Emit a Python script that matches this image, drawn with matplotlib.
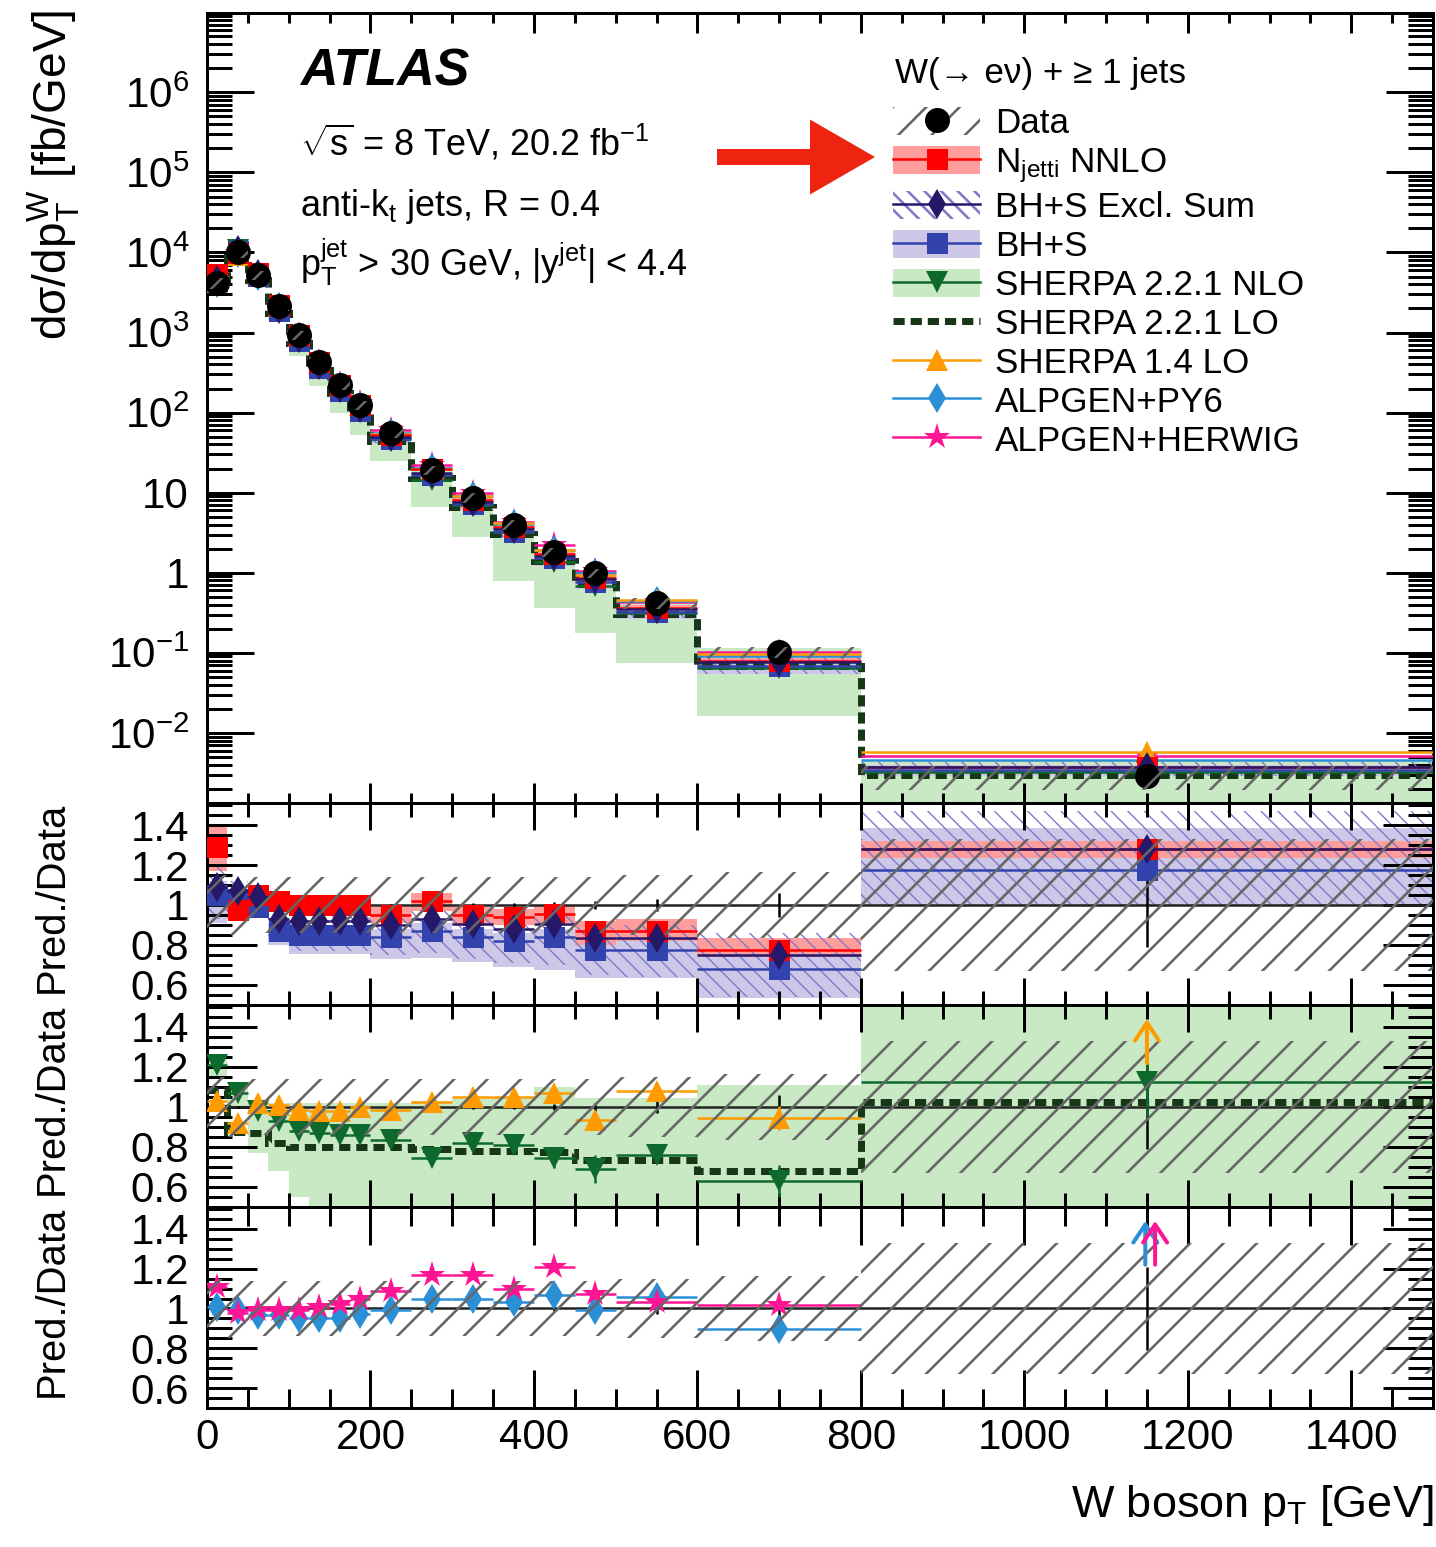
import numpy as np
import matplotlib
matplotlib.use("Agg")
import matplotlib.pyplot as plt
from matplotlib.lines import Line2D
from matplotlib.patches import Patch, FancyArrow
from matplotlib.ticker import MultipleLocator, LogLocator, FixedLocator, FuncFormatter, NullFormatter

# === Data ===
edges = [0, 25, 50, 75, 100, 125, 150, 175, 200, 250, 300, 350, 400, 450, 500, 600, 800, 1500]

data_xs = [4140, 10090, 5210, 2137, 929, 428, 221, 124, 55.5, 19.1, 8.57, 3.94, 1.81, 0.99, 0.419, 0.102, 0.0029]
data_syst = [0.15, 0.15, 0.14, 0.14, 0.14, 0.14, 0.14, 0.14, 0.14, 0.14, 0.14, 0.14, 0.14, 0.14, 0.15, 0.165, 0.33]
data_stat = [0.004, 0.004, 0.004, 0.004, 0.004, 0.005, 0.005, 0.005, 0.006, 0.008, 0.01, 0.012, 0.015, 0.02, 0.03, 0.06, 0.21]

# predictions / data
njetti = [1.29, 0.975, 1.05, 1.02, 1.0, 1.0, 1.0, 1.0, 0.95, 1.02, 0.95, 0.94, 0.955, 0.87, 0.87, 0.775, 1.28]
njetti_lo = [1.17, 0.93, 1.0, 0.98, 0.96, 0.96, 0.96, 0.96, 0.91, 0.97, 0.9, 0.9, 0.91, 0.8, 0.82, 0.74, 1.235]
njetti_hi = [1.40, 1.02, 1.09, 1.06, 1.04, 1.04, 1.04, 1.04, 0.99, 1.06, 0.99, 0.98, 1.0, 0.92, 0.93, 0.835, 1.32]

bhs_excl = [1.09, 1.07, 1.04, 0.93, 0.92, 0.92, 0.92, 0.92, 0.90, 0.93, 0.905, 0.88, 0.905, 0.835, 0.835, 0.75, 1.28]
bhs_excl_lo = [0.93, 0.96, 0.95, 0.82, 0.77, 0.77, 0.77, 0.77, 0.75, 0.76, 0.73, 0.71, 0.70, 0.65, 0.64, 0.54, 1.0]
bhs_excl_hi = [1.2, 1.12, 1.08, 0.97, 0.96, 0.96, 0.96, 0.96, 0.94, 0.97, 0.95, 0.93, 0.95, 0.89, 0.9, 0.86, 1.47]

bhs = [1.05, 1.03, 0.99, 0.87, 0.85, 0.85, 0.85, 0.85, 0.84, 0.87, 0.84, 0.82, 0.84, 0.775, 0.775, 0.68, 1.175]
bhs_lo = [0.91, 0.95, 0.94, 0.80, 0.755, 0.755, 0.755, 0.755, 0.73, 0.735, 0.715, 0.69, 0.675, 0.635, 0.635, 0.535, 1.0]
bhs_hi = [1.12, 1.08, 1.03, 0.91, 0.89, 0.89, 0.89, 0.89, 0.88, 0.91, 0.88, 0.86, 0.88, 0.82, 0.82, 0.8, 1.385]

sherpa_nlo = [1.21, 1.07, 0.98, 0.93, 0.88, 0.87, 0.86, 0.86, 0.835, 0.745, 0.82, 0.81, 0.745, 0.69, 0.76, 0.63, 1.125]
sherpa_nlo_stat = [0.01, 0.01, 0.01, 0.01, 0.01, 0.01, 0.01, 0.01, 0.02, 0.03, 0.02, 0.03, 0.05, 0.07, 0.04, 0.08, 0.17]
sherpa_nlo_lo = [1.15, 1.0, 0.77, 0.68, 0.55, 0.5, 0.45, 0.42, 0.45, 0.35, 0.33, 0.2, 0.2, 0.18, 0.18, 0.16, 0.1]
sherpa_nlo_hi = [1.26, 1.1, 1.02, 1.02, 1.02, 1.02, 1.02, 1.02, 1.02, 1.03, 1.04, 1.045, 1.1, 1.045, 1.045, 1.11, 1.6]

sherpa_lo = [1.085, 0.875, 0.87, 0.82, 0.80, 0.80, 0.80, 0.80, 0.80, 0.79, 0.78, 0.78, 0.775, 0.733, 0.735, 0.68, 1.025]

sherpa14 = [1.03, 0.92, 1.02, 1.01, 0.985, 0.98, 0.98, 1.0, 0.985, 1.027, 1.05, 1.05, 1.07, 0.933, 1.078, 0.945, 2.0]
sherpa14_stat = [0.005, 0.005, 0.005, 0.005, 0.005, 0.005, 0.005, 0.005, 0.01, 0.01, 0.01, 0.015, 0.02, 0.04, 0.03, 0.06, 0.2]

alpgen_py6 = [1.01, 0.99, 0.967, 0.967, 0.95, 0.95, 0.95, 0.97, 0.99, 1.05, 1.05, 1.033, 1.067, 0.99, 1.058, 0.895, 1.6]
alpgen_herwig = [1.11, 0.975, 0.99, 0.99, 0.99, 1.01, 1.025, 1.05, 1.09, 1.167, 1.167, 1.1, 1.21, 1.075, 1.035, 1.017, 1.75]

main_decades = [-2, -1, 0, 1, 2, 3, 4, 5, 6]

legend_title = 'W(\u2192 e\u03bd) + \u2265 1 jets'
legend_labels = ["Data", "N$_{jetti}$ NNLO", "BH+S Excl. Sum", "BH+S", "SHERPA 2.2.1 NLO",
                 "SHERPA 2.2.1 LO", "SHERPA 1.4 LO", "ALPGEN+PY6", "ALPGEN+HERWIG"]

# === Style ===
DPI = 100
W, H = 1436, 1547


def pt(px):
    # pixel size -> points at the output dpi
    return px * 72.0 / DPI


def fx(px):
    return px / W


def fy(py):
    return 1 - py / H


plt.rcParams['font.family'] = ['Liberation Sans', 'DejaVu Sans']
plt.rcParams['mathtext.fontset'] = 'custom'
plt.rcParams['mathtext.rm'] = 'Liberation Sans'
plt.rcParams['mathtext.it'] = 'Liberation Sans:italic'
plt.rcParams['mathtext.bf'] = 'Liberation Sans:bold'
plt.rcParams['mathtext.default'] = 'regular'
plt.rcParams['hatch.linewidth'] = pt(2.6)

c_grey = '#666666'
c_red = '#ff0000'
c_redband = '#ff9c9c'
c_navy = '#251868'
c_purple = '#8378c6'
c_blue = '#3343ad'
c_lav = '#cdc8e8'
c_green = '#0e6a2c'
c_gband = '#c8e9c3'
c_lo = '#163818'
c_orange = '#ff9a00'
c_py6 = '#2b8fd6'
c_herwig = '#ff1493'
lo_dash = (0, (1.6, 0.85))

edges = np.array(edges, dtype=float)
centers = 0.5 * (edges[1:] + edges[:-1])
halfw = 0.5 * np.diff(edges)
data_xs = np.array(data_xs)

fig = plt.figure(figsize=(W / DPI, H / DPI), dpi=DPI)
left, width = fx(207), (1433 - 207) / W
ax0 = fig.add_axes([left, fy(803), width, (803 - 13) / H])
ax1 = fig.add_axes([left, fy(1005), width, (1005 - 803) / H])
ax2 = fig.add_axes([left, fy(1207), width, (1207 - 1005) / H])
ax3 = fig.add_axes([left, fy(1408), width, (1408 - 1207) / H])


def pred(ax, y, color, marker, ms, yerr=None, z=5):
    ax.errorbar(centers, y, xerr=halfw, yerr=yerr, fmt=marker, color=color, ms=pt(ms),
                mew=0, lw=pt(2.5), capsize=0, zorder=z)


def band(ax, lo, hi, z, **kw):
    ax.stairs(hi, edges, baseline=lo, fill=True, lw=0, zorder=z, **kw)


def thin_hatch_band(ax, lo, hi, z):
    with plt.rc_context({'hatch.linewidth': pt(1.4)}):
        band(ax, lo, hi, z, facecolor='none', edgecolor=c_purple, hatch='\\\\')


def offscale(ax, vals, color, dx=0.0):
    top = ax.get_ylim()[1]
    for xc, v in zip(centers, vals):
        if v > top:
            ax.annotate('', xy=(xc + dx, top - 0.07), xytext=(xc + dx, top - 0.29),
                        arrowprops=dict(arrowstyle='->,head_length=0.45,head_width=0.3',
                                        color=color, lw=pt(4), mutation_scale=pt(40),
                                        shrinkA=0, shrinkB=0), zorder=9)


# === Main panel ===
band(ax0, data_xs * np.array(sherpa_nlo_lo), data_xs * np.array(sherpa_nlo_hi), 1, color=c_gband)
band(ax0, data_xs * np.array(bhs_lo), data_xs * np.array(bhs_hi), 1.2, color=c_lav)
band(ax0, data_xs * np.array(njetti_lo), data_xs * np.array(njetti_hi), 1.4, color=c_redband)
thin_hatch_band(ax0, data_xs * np.array(bhs_excl_lo), data_xs * np.array(bhs_excl_hi), 1.6)
ax0.stairs(data_xs * np.array(sherpa_lo), edges, baseline=None, color=c_lo, lw=pt(7),
           linestyle=lo_dash, zorder=3)
pred(ax0, data_xs * np.array(alpgen_herwig), c_herwig, '*', 28, z=3.1)
pred(ax0, data_xs * np.array(alpgen_py6), c_py6, 'd', 21, z=3.2)
pred(ax0, data_xs * np.array(sherpa14), c_orange, '^', 22, z=3.3)
pred(ax0, data_xs * np.array(sherpa_nlo), c_green, 'v', 22, z=3.4)
pred(ax0, data_xs * np.array(bhs), c_blue, 's', 21, z=3.5)
pred(ax0, data_xs * np.array(njetti), c_red, 's', 21, z=3.6)
pred(ax0, data_xs * np.array(bhs_excl), c_navy, 'd', 21, z=3.7)
ax0.errorbar(centers, data_xs, yerr=data_xs * np.array(data_stat), fmt='o', color='black',
             ms=pt(25), mew=0, lw=pt(2.5), capsize=0, zorder=4)
band(ax0, data_xs * (1 - np.array(data_syst)), data_xs * (1 + np.array(data_syst)), 4.5,
     facecolor='none', edgecolor=c_grey, hatch='/')

ax0.set_yscale('log')
ax0.set_ylim(1.33e-3, 9.8e6)


def log_label(v, pos):
    e = int(round(np.log10(v)))
    if e == 0:
        return '1'
    if e == 1:
        return '10'
    return '10$^{%d}$' % e


# only the decades inside the view, so no stray labels exist outside the panel
ax0.yaxis.set_major_locator(FixedLocator([10.0 ** e for e in main_decades]))
ax0.yaxis.set_minor_locator(LogLocator(base=10, subs=np.arange(2, 10), numticks=200))
ax0.yaxis.set_major_formatter(FuncFormatter(log_label))
ax0.yaxis.set_minor_formatter(NullFormatter())

# === Ratio panel 1: fixed order ===
band(ax1, bhs_lo, bhs_hi, 1, color=c_lav)
band(ax1, njetti_lo, njetti_hi, 1.2, color=c_redband)
thin_hatch_band(ax1, bhs_excl_lo, bhs_excl_hi, 1.4)
pred(ax1, bhs, c_blue, 's', 21, z=3)
pred(ax1, njetti, c_red, 's', 21, z=3.1)
pred(ax1, bhs_excl, c_navy, 'd', 21, z=3.2)

# === Ratio panel 2: SHERPA ===
band(ax2, sherpa_nlo_lo, sherpa_nlo_hi, 1, color=c_gband)
ax2.stairs(sherpa_lo, edges, baseline=None, color=c_lo, lw=pt(7), linestyle=lo_dash, zorder=3)
pred(ax2, sherpa_nlo, c_green, 'v', 22, yerr=sherpa_nlo_stat, z=3.2)
pred(ax2, sherpa14, c_orange, '^', 22, yerr=sherpa14_stat, z=3.3)

# === Ratio panel 3: ALPGEN ===
pred(ax3, alpgen_py6, c_py6, 'd', 21, z=3)
pred(ax3, alpgen_herwig, c_herwig, '*', 28, z=3.1)

for ax in (ax1, ax2, ax3):
    ax.axhline(1.0, color='#222222', lw=pt(2.5), zorder=2.5)
    ax.errorbar(centers, np.ones(len(centers)), yerr=data_stat, fmt='none', ecolor='black',
                lw=pt(2.5), capsize=0, zorder=2.6)
    band(ax, 1 - np.array(data_syst), 1 + np.array(data_syst), 6,
         facecolor='none', edgecolor=c_grey, hatch='/')
    ax.set_ylim(0.5, 1.51)
    ax.yaxis.set_major_locator(FixedLocator([0.6, 0.8, 1.0, 1.2, 1.4]))
    ax.yaxis.set_minor_locator(MultipleLocator(0.05))
    ax.yaxis.set_major_formatter(FuncFormatter(lambda v, p: '%g' % round(v, 2)))

offscale(ax2, sherpa14, c_orange)
offscale(ax3, alpgen_py6, c_py6, dx=-2)
offscale(ax3, alpgen_herwig, c_herwig, dx=10)

# === Axes styling ===
tick_len = {ax0: (20, 10, 47, 25), ax1: (27, 14, 50, 25), ax2: (27, 14, 50, 25), ax3: (38, 19, 50, 25)}
for ax in (ax0, ax1, ax2, ax3):
    xmaj, xmin, ymaj, ymin = tick_len[ax]
    ax.set_xlim(0, 1500)
    ax.xaxis.set_major_locator(FixedLocator([0, 200, 400, 600, 800, 1000, 1200, 1400]))
    ax.xaxis.set_minor_locator(MultipleLocator(50))
    ax.tick_params(which='both', direction='in', top=True, right=True, width=pt(3),
                   labelsize=pt(42), color='black')
    ax.tick_params(axis='x', which='major', length=pt(xmaj), pad=pt(10))
    ax.tick_params(axis='x', which='minor', length=pt(xmin))
    ax.tick_params(axis='y', which='major', length=pt(ymaj), pad=pt(18))
    ax.tick_params(axis='y', which='minor', length=pt(ymin))
    for s in ax.spines.values():
        s.set_linewidth(pt(3))
    if ax is not ax3:
        ax.tick_params(axis='x', labelbottom=False)

# === Labels ===
fig.text(fx(54), fy(10), 'd\u03c3/dp$_{T}^{W}$ [fb/GeV]', rotation=90, ha='center', va='top',
         fontsize=pt(46))
for ax in (ax1, ax2, ax3):
    pos = ax.get_position()
    fig.text(fx(52), pos.y0 + pos.height / 2 + 0.004, 'Pred./Data', rotation=90,
             ha='center', va='center', fontsize=pt(40))
fig.text(fx(1433), fy(1506), 'W boson p$_{T}$ [GeV]', ha='right', va='center', fontsize=pt(45))

fig.text(fx(300), fy(85), 'ATLAS', fontsize=pt(52), fontweight='bold', fontstyle='italic',
         va='baseline')
fig.text(fx(300), fy(156), r'$\sqrt{s}$ = 8 TeV, 20.2 fb$^{-1}$', fontsize=pt(36), va='baseline')
fig.text(fx(300), fy(216), 'anti-k$_{t}$ jets, R = 0.4', fontsize=pt(36), va='baseline')
fig.text(fx(300), fy(276), 'p$_{T}^{jet}$ > 30 GeV, |y$^{jet}$| < 4.4', fontsize=pt(36),
         va='baseline')

# === Legend ===
fig.text(fx(895), fy(73), legend_title, fontsize=pt(35), va='center')
handles = [
    (Patch(facecolor='white', edgecolor=c_grey, hatch='/', lw=0),
     Line2D([], [], color='black', marker='o', ls='none', ms=pt(25), mew=0)),
    (Patch(facecolor=c_redband, lw=0),
     Line2D([], [], color=c_red, marker='s', ms=pt(21), mew=0, lw=pt(2.5))),
    (Patch(facecolor='none', edgecolor=c_purple, hatch='\\\\', lw=0),
     Line2D([], [], color=c_navy, marker='d', ms=pt(21), mew=0, lw=pt(2.5))),
    (Patch(facecolor=c_lav, lw=0),
     Line2D([], [], color=c_blue, marker='s', ms=pt(21), mew=0, lw=pt(2.5))),
    (Patch(facecolor=c_gband, lw=0),
     Line2D([], [], color=c_green, marker='v', ms=pt(22), mew=0, lw=pt(2.5))),
    Line2D([], [], color=c_lo, lw=pt(7), linestyle=lo_dash),
    Line2D([], [], color=c_orange, marker='^', ms=pt(22), mew=0, lw=pt(2.5)),
    Line2D([], [], color=c_py6, marker='d', ms=pt(21), mew=0, lw=pt(2.5)),
    Line2D([], [], color=c_herwig, marker='*', ms=pt(28), mew=0, lw=pt(2.5)),
]
leg = ax0.legend(handles, legend_labels, loc='upper left', bbox_to_anchor=(fx(893), fy(107)),
                 bbox_transform=fig.transFigure, frameon=False, fontsize=pt(35),
                 handlelength=87 / 35, handleheight=0.86,
                 handletextpad=0.43, labelspacing=0.165, borderpad=0, borderaxespad=0)
leg.set_zorder(20)

# red arrow pointing at the N_jetti entry
fig.add_artist(FancyArrow(fx(717), fy(157), fx(875) - fx(717), 0, width=16 / H,
                          head_width=75 / H, head_length=65 / W, length_includes_head=True,
                          transform=fig.transFigure, color='#ee2410', lw=0))

fig.savefig('out.png', dpi=DPI)
